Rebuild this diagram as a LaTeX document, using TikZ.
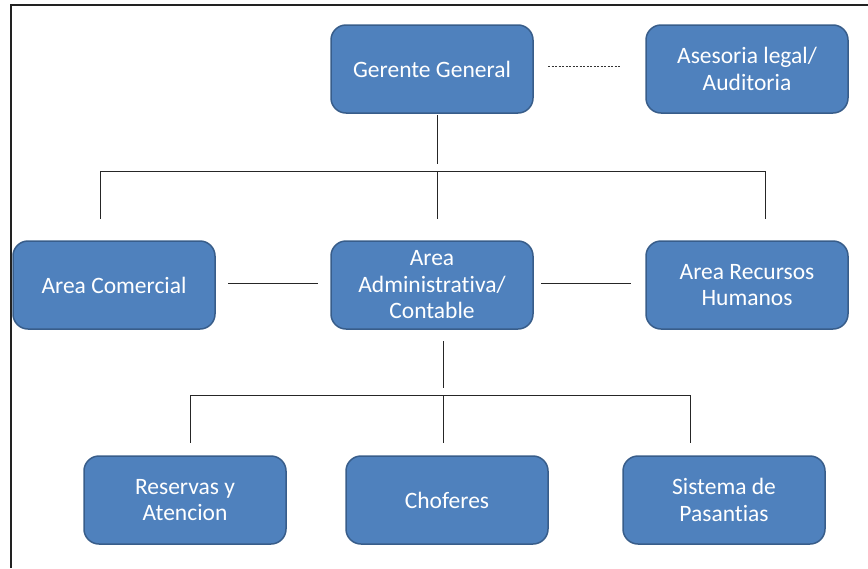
\documentclass[tikz,border=0pt]{standalone}
\usepackage{fontspec}
\setmainfont{Carlito}[Ligatures={NoCommon}]
\definecolor{boxfill}{HTML}{4F81BD}
\definecolor{boxline}{HTML}{385D8A}
\definecolor{frameline}{HTML}{222222}
\begin{document}
\begin{tikzpicture}[x=1pt,y=-1pt,
  orgbox/.style={draw=boxline, line width=1.5pt, fill=boxfill, rounded corners=15pt,
    minimum width=202pt, minimum height=88pt, text=white, align=center,
    font=\fontsize{23.5}{26.5}\selectfont, inner sep=0pt},
  conn/.style={draw=black!85, line width=0.8pt}]
\useasboundingbox (0,0) rectangle (868,568);
\draw[frameline, line width=2.2pt] (11,568) -- (11,5) -- (868,5);

\node[orgbox] (gg) at (432,69) {Gerente General};
\node[orgbox] (al) at (747,69) {Asesoria legal/\\Auditoria};
\node[orgbox] (ac) at (114,285) {Area Comercial};
\node[orgbox] (aa) at (432,285) {Area\\Administrativa/\\Contable};
\node[orgbox] (ar) at (747,285) {Area Recursos\\Humanos};
\node[orgbox] (rs) at (185,500) {Reservas y\\Atencion};
\node[orgbox] (ch) at (447,500) {Choferes};
\node[orgbox] (sp) at (724,500) {Sistema de\\Pasantias};

% dotted link
\coordinate (d1) at (548,66);
\coordinate (d2) at (620,66);
\draw[black!80, line width=0.8pt, dash pattern=on 2pt off 1.5pt] (d1) -- (d2);

% top tree
\coordinate (t0) at (437,115);
\coordinate (t1) at (437,164);
\coordinate (hL) at (100,171);
\coordinate (hR) at (765,171);
\coordinate (hM) at (437,171);
\draw[conn] (t0) -- (t1);
\draw[conn] (hL) -- (hR);
\draw[conn] (hL) -- (100,219);
\draw[conn] (hM) -- (437,219);
\draw[conn] (hR) -- (765,219);

% side links
\coordinate (s1) at (228,283);
\coordinate (s2) at (318,283);
\coordinate (s3) at (541,283);
\coordinate (s4) at (631,283);
\draw[conn] (s1) -- (s2);
\draw[conn] (s3) -- (s4);

% bottom tree
\coordinate (b0) at (443,341);
\coordinate (b1) at (443,388);
\coordinate (bL) at (190,395);
\coordinate (bR) at (690,395);
\coordinate (bM) at (443,395);
\draw[conn] (b0) -- (b1);
\draw[conn] (bL) -- (bR);
\draw[conn] (bL) -- (190,443);
\draw[conn] (bM) -- (443,443);
\draw[conn] (bR) -- (690,443);
\end{tikzpicture}
\end{document}
